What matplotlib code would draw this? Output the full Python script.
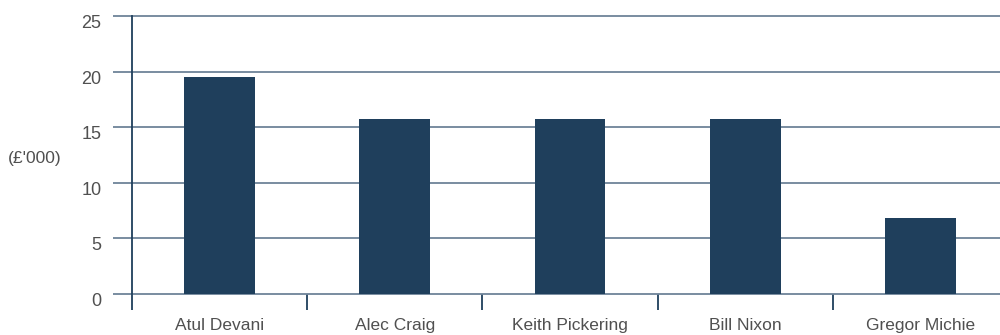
import matplotlib
matplotlib.use('Agg')
import matplotlib.pyplot as plt
import matplotlib.transforms as mtransforms
import numpy as np

names = ['Atul Devani', 'Alec Craig', 'Keith Pickering', 'Bill Nixon', 'Gregor Michie']
values = [19.5, 15.7, 15.7, 15.7, 6.8]
yticks = [0, 5, 10, 15, 20, 25]

bar_color = '#1f3f5c'
grid_color = '#6e8399'
text_color = '#505050'

plt.rcParams['font.family'] = ['Liberation Sans', 'DejaVu Sans']

fig = plt.figure(figsize=(10, 3.35), dpi=100)
ax = fig.add_axes([0.132, 0.1224, 0.876, 0.8299])

x = np.arange(len(names))
ax.bar(x, values, width=0.405, color=bar_color, zorder=3)

ax.set_xlim(-0.5, len(names) - 0.5)
ax.set_ylim(0, 25)

# horizontal grid, with ticks poking out past the axis
ax.set_yticks(yticks)
ax.yaxis.grid(True, color=grid_color, linewidth=1.3, zorder=1)
for line in ax.get_ygridlines():
    line.set_clip_on(False)
ax.tick_params(axis='y', length=14, width=1.3, color=grid_color, pad=8,
               labelsize=13, labelcolor=text_color)
offset = mtransforms.ScaledTranslation(0, -4 / 72, fig.dpi_scale_trans)
for lab in ax.get_yticklabels():
    lab.set_transform(lab.get_transform() + offset)

# names under bars, separators between categories
ax.set_xticks(x)
ax.set_xticklabels(names)
ax.set_xticks(np.arange(-0.5, len(names), 1.0), minor=True)
ax.tick_params(axis='x', which='major', length=0, pad=17, labelsize=12.5,
               labelcolor=text_color)
ax.tick_params(axis='x', which='minor', length=11.5, width=1.3, color=bar_color)

for side in ['top', 'right', 'bottom']:
    ax.spines[side].set_visible(False)
ax.spines['left'].set_color(bar_color)
ax.spines['left'].set_linewidth(1.3)
ax.spines['left'].set_zorder(4)

fig.text(0.008, 0.527, "(£'000)", fontsize=12.5, color=text_color, va='center', ha='left')

fig.savefig('out.png', dpi=100)
